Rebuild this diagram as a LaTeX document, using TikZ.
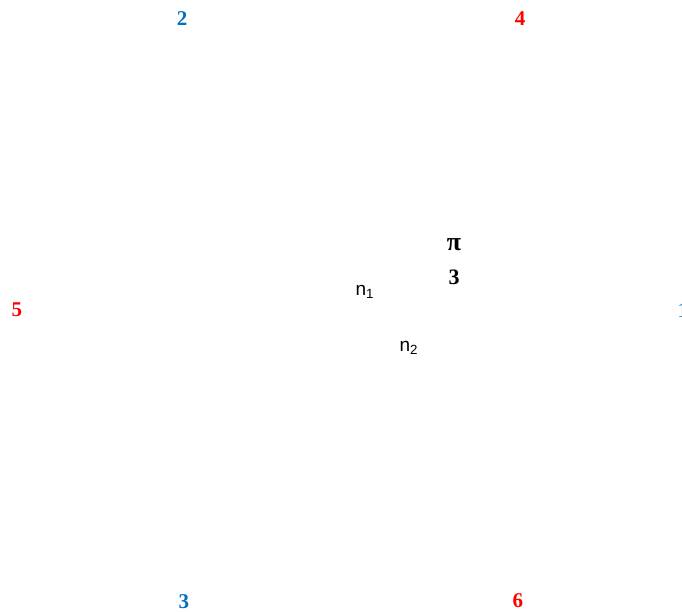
\documentclass[tikz,border=0pt]{standalone}
\usepackage{fontspec}
\setmainfont{Liberation Serif}
\newfontfamily\labelsans{Liberation Sans}
\usetikzlibrary{positioning}
\definecolor{vblue}{RGB}{0,112,192}
\definecolor{vred}{RGB}{255,0,0}

\begin{document}
\begin{tikzpicture}[
  x=0.5pt, y=-0.5pt,
  vertex/.style={inner sep=1pt, font=\fontsize{10.5}{12}\selectfont\bfseries},
  even/.style={vertex, text=vblue},
  odd/.style={vertex, text=vred},
  side/.style={inner sep=1pt, font=\fontsize{9.5}{11}\selectfont\labelsans},
  angle/.style={inner sep=1pt, font=\fontsize{11}{12}\selectfont\bfseries}
]
\useasboundingbox (0,0) rectangle (682,612);

% vertex labels
\node[even] (v2) at (182,19) {2};
\node[odd]  (v4) at (520,19) {4};
\node[odd]  (v5) at (17,310) {5};
\node[vertex, font=\fontsize{10.5}{12}\selectfont, text=vblue] (v1) at (682.5,311) {1};
\node[even] (v3) at (184,602) {3};
\node[odd]  (v6) at (518,601) {6};

% angle
\node[angle, font=\fontsize{13}{14}\selectfont\bfseries] (pinum) at (454,245) {π};
\node[angle, below=16pt of pinum.center, anchor=center] (piden) {3};

% normals
\node[side] (n1) at (365,292) {n\textsubscript{1}};
\node[side] (n2) at (409,348) {n\textsubscript{2}};

\end{tikzpicture}
\end{document}
